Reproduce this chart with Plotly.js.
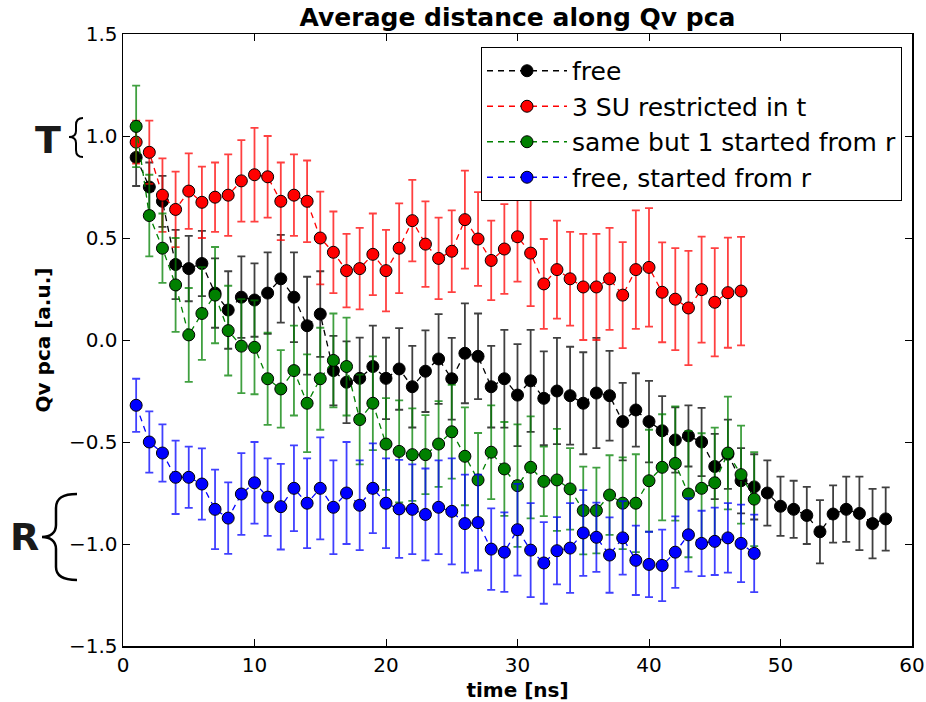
<!DOCTYPE html>
<html>
<head>
<meta charset="utf-8">
<script src="https://cdn.plot.ly/plotly-3.0.1.min.js"></script>
<style>html,body{margin:0;padding:0;background:#fff;}#chart{width:926px;height:702px;}</style>
</head>
<body>
<div id="chart"></div>
<script>
// ---- data ----
const timeFree = [1,2,3,4,5,6,7,8,9,10,11,12,13,14,15,16,17,18,19,20,21,22,23,24,25,26,27,28,29,30,31,32,33,34,35,36,37,38,39,40,41,42,43,44,45,46,47,48,49,50,51,52,53,54,55,56,57,58];
const valFree = [0.895,0.75,0.68,0.37,0.35,0.375,0.23,0.147,0.21,0.196,0.23,0.30,0.21,0.07,0.127,-0.15,-0.207,-0.188,-0.13,-0.188,-0.142,-0.229,-0.153,-0.093,-0.19,-0.065,-0.08,-0.229,-0.19,-0.27,-0.20,-0.286,-0.25,-0.273,-0.31,-0.26,-0.273,-0.40,-0.343,-0.40,-0.445,-0.49,-0.47,-0.50,-0.62,-0.56,-0.69,-0.72,-0.75,-0.815,-0.83,-0.86,-0.94,-0.853,-0.83,-0.85,-0.90,-0.877];
const errFree = [0.14,0.12,0.125,0.17,0.16,0.16,0.17,0.19,0.2,0.18,0.2,0.215,0.22,0.24,0.21,0.17,0.2,0.2,0.2,0.2,0.2,0.2,0.2,0.22,0.2,0.245,0.21,0.2,0.24,0.25,0.25,0.23,0.26,0.24,0.25,0.27,0.22,0.19,0.18,0.2,0.17,0.16,0.15,0.167,0.16,0.17,0.16,0.16,0.16,0.145,0.14,0.14,0.155,0.14,0.16,0.18,0.17,0.155];

const timeRestr = [1,2,3,4,5,6,7,8,9,10,11,12,13,14,15,16,17,18,19,20,21,22,23,24,25,26,27,28,29,30,31,32,33,34,35,36,37,38,39,40,41,42,43,44,45,46,47];
const valRestr = [0.97,0.92,0.71,0.64,0.73,0.675,0.70,0.71,0.78,0.81,0.80,0.68,0.71,0.68,0.50,0.43,0.34,0.35,0.42,0.34,0.45,0.585,0.47,0.40,0.435,0.59,0.495,0.39,0.446,0.506,0.426,0.275,0.345,0.30,0.26,0.26,0.30,0.22,0.345,0.356,0.234,0.20,0.157,0.247,0.185,0.232,0.24];
const errRestr = [0.105,0.155,0.18,0.185,0.185,0.175,0.17,0.2,0.2,0.23,0.2,0.19,0.2,0.2,0.227,0.2,0.18,0.2,0.2,0.2,0.22,0.2,0.21,0.2,0.2,0.24,0.23,0.195,0.22,0.22,0.26,0.22,0.24,0.23,0.26,0.26,0.25,0.26,0.29,0.29,0.245,0.25,0.28,0.26,0.265,0.27,0.266];

const timeSame = [1,2,3,4,5,6,7,8,9,10,11,12,13,14,15,16,17,18,19,20,21,22,23,24,25,26,27,28,29,30,31,32,33,34,35,36,37,38,39,40,41,42,43,44,45,46,47,48];
const valSame = [1.047,0.61,0.45,0.27,0.025,0.13,0.22,0.046,-0.03,-0.036,-0.19,-0.24,-0.15,-0.31,-0.19,-0.10,-0.13,-0.39,-0.31,-0.51,-0.546,-0.562,-0.562,-0.51,-0.45,-0.57,-0.686,-0.55,-0.632,-0.714,-0.624,-0.693,-0.686,-0.73,-0.836,-0.836,-0.76,-0.80,-0.80,-0.69,-0.624,-0.605,-0.755,-0.727,-0.70,-0.554,-0.66,-0.78];
const errSame = [0.2,0.2,0.17,0.23,0.23,0.227,0.236,0.22,0.23,0.23,0.226,0.19,0.22,0.24,0.25,0.23,0.24,0.22,0.23,0.225,0.25,0.227,0.194,0.21,0.23,0.24,0.23,0.23,0.23,0.3,0.25,0.17,0.25,0.2,0.215,0.21,0.195,0.225,0.24,0.25,0.26,0.28,0.31,0.27,0.27,0.276,0.24,0.23];

const timeFreeR = [1,2,3,4,5,6,7,8,9,10,11,12,13,14,15,16,17,18,19,20,21,22,23,24,25,26,27,28,29,30,31,32,33,34,35,36,37,38,39,40,41,42,43,44,45,46,47,48];
const valFreeR = [-0.32,-0.50,-0.554,-0.673,-0.673,-0.706,-0.83,-0.873,-0.755,-0.70,-0.77,-0.817,-0.727,-0.80,-0.727,-0.82,-0.75,-0.81,-0.727,-0.80,-0.828,-0.83,-0.855,-0.82,-0.84,-0.90,-0.895,-1.025,-1.04,-0.93,-1.03,-1.093,-1.033,-1.02,-0.946,-0.967,-1.054,-0.97,-1.08,-1.10,-1.105,-1.04,-0.955,-0.997,-0.987,-0.97,-0.997,-1.046];
const errFreeR = [0.13,0.15,0.14,0.18,0.15,0.175,0.195,0.175,0.2,0.2,0.19,0.21,0.21,0.22,0.25,0.23,0.25,0.22,0.22,0.22,0.24,0.22,0.225,0.23,0.26,0.24,0.235,0.2,0.195,0.225,0.23,0.2,0.165,0.22,0.21,0.17,0.185,0.18,0.17,0.16,0.175,0.175,0.18,0.16,0.165,0.17,0.19,0.19];

const seriesNames = ["free", "3 SU restricted in t", "same but 1 started from r", "free, started from r"];
const xTickVals = [0,10,20,30,40,50,60];
const yTickVals = [-1.5,-1.0,-0.5,0.0,0.5,1.0,1.5];

// ---- styling ----
const colors = ["#000000", "#ff0000", "#008000", "#0000ff"];
const errColors = ["rgba(0,0,0,0.75)", "rgba(255,0,0,0.75)", "rgba(0,128,0,0.75)", "rgba(0,0,255,0.75)"];
const FONT = "DejaVu Sans, Liberation Sans, sans-serif";

function mk(x, y, e, i) {
  return {
    type: "scatter", mode: "lines+markers", x: x, y: y, name: seriesNames[i],
    line: {color: colors[i], width: 1.3, dash: "6px,5px"},
    marker: {color: colors[i], size: 12, line: {color: "#000", width: 1}},
    error_y: {type: "data", array: e, visible: true, color: errColors[i], thickness: 1.8, width: 4}
  };
}

const traces = [
  mk(timeFree, valFree, errFree, 0),
  mk(timeRestr, valRestr, errRestr, 1),
  mk(timeSame, valSame, errSame, 2),
  mk(timeFreeR, valFreeR, errFreeR, 3)
];

// plot area in pixels: left 123, right 912, top 34, bottom 646
const L = 123, R = 912, T = 34, B = 646;
function px(x) { return ((x - L) / (R - L)).toFixed(5); }
function py(y) { return ((B - y) / (B - T)).toFixed(5); }
function path(cmds) {
  return cmds.map(c => c[0] + " " + c.slice(1).map((v, k) => (k % 2 === 0 ? px(v) : py(v))).join(",")).join(" ");
}
const braceR = path([
  ["M", 77, 494],
  ["C", 63, 494, 56, 498, 56, 508],
  ["L", 56, 525],
  ["C", 56, 533, 50, 537, 42, 537],
  ["C", 50, 537, 56, 541, 56, 549],
  ["L", 56, 567],
  ["C", 56, 576, 63, 580, 77, 580]
]);
const braceT = path([
  ["M", 83, 118],
  ["C", 78, 118, 76, 121, 76, 125],
  ["L", 76, 131],
  ["C", 76, 135, 73, 137, 69, 137],
  ["C", 73, 137, 76, 139, 76, 143],
  ["L", 76, 150],
  ["C", 76, 154, 78, 157, 83, 157]
]);

const axisCommon = {
  showgrid: false, zeroline: false, showline: true, linecolor: "#000", linewidth: 1.5,
  mirror: "allticks", ticks: "inside", ticklen: 7, tickwidth: 1, tickcolor: "#000",
  tickfont: {family: FONT, size: 20, color: "#000"}, ticklabeloverflow: "allow"
};

const layout = {
  width: 926, height: 702,
  margin: {l: L, r: 926 - R, t: T, b: 702 - B, pad: 0},
  paper_bgcolor: "#fff", plot_bgcolor: "#fff",
  title: {text: "<b>Average distance along Qv pca</b>", font: {family: FONT, size: 25, color: "#000"},
          x: 0.5, xref: "paper", y: 0.975, yanchor: "middle"},
  xaxis: Object.assign({}, axisCommon, {
    range: [0, 60], tickvals: xTickVals, tickformat: "d",
    title: {text: "<b>time [ns]</b>", font: {family: FONT, size: 20, color: "#000"}, standoff: 8}
  }),
  yaxis: Object.assign({}, axisCommon, {
    range: [-1.5, 1.5], tickvals: yTickVals, tickformat: ".1f",
    title: {text: "<b>Qv pca [a.u.]</b>", font: {family: FONT, size: 20, color: "#000"}, standoff: 13}
  }),
  showlegend: true,
  legend: {
    x: px(902), xanchor: "right", y: py(47), yanchor: "top",
    bgcolor: "#fff", bordercolor: "#000", borderwidth: 1,
    font: {family: FONT, size: 25, color: "#000"},
    itemwidth: 80, tracegroupgap: 0
  },
  shapes: [
    {type: "path", xref: "paper", yref: "paper", path: braceR, line: {color: "#000", width: 2.5}},
    {type: "path", xref: "paper", yref: "paper", path: braceT, line: {color: "#000", width: 2}}
  ],
  annotations: [
    {text: "<b>T</b>", xref: "paper", yref: "paper", x: px(48), y: py(140), showarrow: false,
     font: {family: FONT, size: 38, color: "#1a1a1a"}, xanchor: "center", yanchor: "middle"},
    {text: "<b>R</b>", xref: "paper", yref: "paper", x: px(25), y: py(537), showarrow: false,
     font: {family: FONT, size: 38, color: "#1a1a1a"}, xanchor: "center", yanchor: "middle"}
  ]
};

Plotly.newPlot("chart", traces, layout, {displayModeBar: false, staticPlot: true});
</script>
</body>
</html>
